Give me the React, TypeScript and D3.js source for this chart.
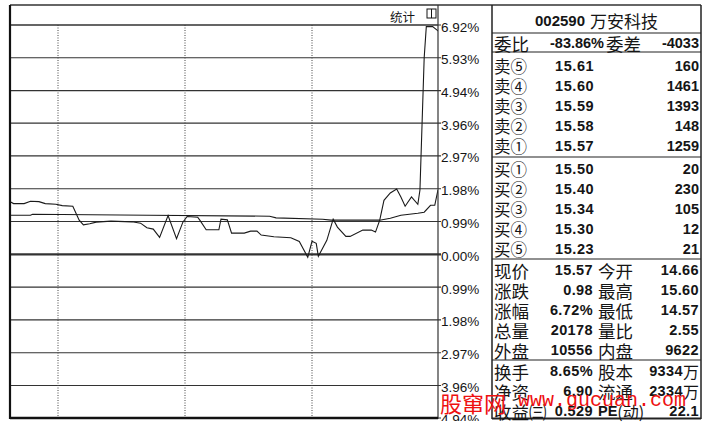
import * as d3 from 'd3'

// intraday price line, percent vs previous close (14.59)
const priceMinute = [35, 37, 39, 44, 47, 51, 54, 59, 62, 67, 70, 72, 75, 78, 85, 95, 99, 102, 105, 108, 112, 116, 119, 121, 126, 127, 130, 136, 137, 140, 142, 148, 151, 154, 156, 162, 170, 174, 178, 180, 182, 183, 187, 190, 192, 196, 198, 204, 208, 210, 212, 214, 217, 220, 222, 224, 227, 230, 231, 232, 233, 234, 237, 240]
const pricePct = [1.62, 1.6, 1.53, 1.53, 1.6, 1.59, 1.53, 1.51, 1.47, 1.45, 1.03, 0.89, 0.92, 0.97, 1.0, 0.98, 0.94, 0.8, 0.76, 0.51, 1.17, 0.47, 0.97, 1.14, 1.12, 1.03, 0.74, 0.74, 1.06, 1.04, 0.64, 0.64, 0.7, 0.7, 0.58, 0.53, 0.5, 0.39, -0.09, 0.39, 0.33, -0.06, 0.42, 1.06, 0.82, 0.54, 0.54, 0.73, 0.73, 0.67, 1.03, 1.63, 1.85, 1.97, 1.73, 1.45, 1.73, 1.51, 1.94, 3.94, 5.93, 6.87, 6.87, 6.72]

// average price line
const avgMinute = [35, 47, 48, 103, 160, 163, 185, 189, 212, 217, 222, 230, 233, 236, 238, 239.5]
const avgPct = [1.18, 1.18, 1.21, 1.18, 1.15, 1.1, 1.06, 1.03, 1.03, 1.09, 1.18, 1.24, 1.27, 1.48, 1.48, 1.94]

const tickValues = [6.92, 5.93, 4.94, 3.96, 2.97, 1.98, 0.99, 0, -0.99, -1.98, -2.97, -3.96, -4.94]
const tickLabels = ['6.92%', '5.93%', '4.94%', '3.96%', '2.97%', '1.98%', '0.99%', '0.00%', '0.99%', '1.98%', '2.97%', '3.96%', '4.94%']
const hourMinutes = [60, 120, 180]

const stockTitle = ['002590', '万安科技']
const ratioRow = ['委比', '-83.86%', '委差', '-4033']
const sellLabels = ['卖⑤', '卖④', '卖③', '卖②', '卖①']
const sellPrices = ['15.61', '15.60', '15.59', '15.58', '15.57']
const sellVols = ['160', '1461', '1393', '148', '1259']
const buyLabels = ['买①', '买②', '买③', '买④', '买⑤']
const buyPrices = ['15.50', '15.40', '15.34', '15.30', '15.23']
const buyVols = ['20', '230', '105', '12', '21']
const statRows = [
  ['现价', '15.57', '今开', '14.66'],
  ['涨跌', '0.98', '最高', '15.60'],
  ['涨幅', '6.72%', '最低', '14.57'],
  ['总量', '20178', '量比', '2.55'],
  ['外盘', '10556', '内盘', '9622'],
]
const extraRows = [
  ['换手', '8.65%', '股本', '9334', '万'],
  ['净资', '6.90', '流通', '2334', '万'],
  ['收益㈢', '0.529', 'PE(动)', '22.1', ''],
]

const W = 709
const H = 426
const left = 10
const right = 438
const top = 5
const headBottom = 25
const bottom = 418
const panelLeft = 492
const panelRight = 701

const cjk = '"Noto Sans CJK SC", sans-serif'
const num = '"Liberation Sans", Arial, sans-serif'
const ink = '#151515'
const grid = '#333'

export default function App() {
  const x = d3.scaleLinear([0, 240], [-69, 439])
  const y = d3.scaleLinear([0, 6.92], [254.3, 25])

  const priceLine = d3
    .line<number>()
    .x((_, i) => x(priceMinute[i]))
    .y((d) => y(d))
  const avgLine = d3
    .line<number>()
    .x((_, i) => x(avgMinute[i]))
    .y((d) => y(d))

  const numText = (props: any, s: string) => (
    <text fontFamily={num} fontWeight="bold" fontSize={14.5} fill={ink} dominantBaseline="central" {...props}>
      {s}
    </text>
  )
  const cjkText = (props: any, s: string) => (
    <text fontFamily={cjk} fontSize={16.5} fill={ink} dominantBaseline="central" {...props}>
      {s}
    </text>
  )

  return (
    <>
      <style>{`body{margin:0}`}</style>
      <svg width={W} height={H} style={{ display: 'block', background: '#fff' }}>
        <defs>
          <clipPath id="plot">
            <rect x={left} y={headBottom - 2} width={right - left} height={bottom - headBottom + 2} />
          </clipPath>
          <clipPath id="axis">
            <rect x={right} y={top} width={panelLeft - right} height={421 - top} />
          </clipPath>
        </defs>

        {/* horizontal grid */}
        {tickValues.map((v) => (
          <line
            key={v}
            x1={left}
            x2={right + 3}
            y1={y(v)}
            y2={y(v)}
            stroke={grid}
            strokeWidth={v === 0 ? 2.2 : 1.1}
          />
        ))}
        {/* dotted hour lines */}
        {hourMinutes.map((m) => (
          <line key={m} x1={x(m)} x2={x(m)} y1={headBottom} y2={bottom} stroke="#444" strokeWidth={1} strokeDasharray="1,1.5" />
        ))}

        <g clipPath="url(#plot)" fill="none" stroke="#1a1a1a" strokeWidth={1.1}>
          <path d={avgLine(avgPct) ?? ''} />
          <path d={priceLine(pricePct) ?? ''} />
        </g>

        {/* frame */}
        <line x1={left} x2={panelRight} y1={top} y2={top} stroke={grid} strokeWidth={1.5} />
        <line x1={left} x2={right} y1={headBottom} y2={headBottom} stroke={grid} strokeWidth={1.2} />
        <line x1={left} x2={left} y1={top} y2={bottom + 1} stroke="#111" strokeWidth={2.2} />
        <line x1={right} x2={right} y1={top} y2={bottom + 1} stroke={grid} strokeWidth={1.2} />
        <line x1={left} x2={right} y1={bottom} y2={bottom} stroke="#111" strokeWidth={2.5} />

        <text x={390} y={16} fontFamily={cjk} fontSize={12.5} fill={ink} dominantBaseline="central">
          统计
        </text>
        <rect x={427} y={9} width={9} height={9} fill="none" stroke={ink} strokeWidth={1} />
        <line x1={431.5} x2={431.5} y1={9} y2={18} stroke={ink} strokeWidth={1} />

        {/* y axis labels */}
        <g clipPath="url(#axis)">
          {tickValues.map((v, i) => (
            <text
              key={v}
              x={441}
              y={y(v) + 2}
              fontFamily={num}
              fontSize={13.5}
              fill={ink}
              dominantBaseline="central"
            >
              {tickLabels[i]}
            </text>
          ))}
        </g>

        {/* right quote panel */}
        <line x1={panelLeft} x2={panelLeft} y1={top} y2={bottom + 1} stroke="#222" strokeWidth={1.5} />
        <line x1={panelRight} x2={panelRight} y1={top} y2={bottom + 1} stroke="#222" strokeWidth={1.5} />
        <line x1={panelLeft} x2={panelRight} y1={bottom + 0.5} y2={bottom + 0.5} stroke="#222" strokeWidth={2} />
        {[33, 52, 157, 259, 360].map((sy) => (
          <line key={sy} x1={panelLeft} x2={panelRight} y1={sy} y2={sy} stroke="#222" strokeWidth={1.2} />
        ))}

        <text x={(panelLeft + panelRight) / 2} y={20} textAnchor="middle" dominantBaseline="central" fill={ink}>
          <tspan fontFamily={num} fontWeight="bold" fontSize={15}>
            {stockTitle[0]}
          </tspan>
          <tspan fontFamily={cjk} fontSize={17} dx={5}>
            {stockTitle[1]}
          </tspan>
        </text>

        {cjkText({ x: 494, y: 43, fontSize: 17.5 }, ratioRow[0])}
        {numText({ x: 604, y: 43, textAnchor: 'end' }, ratioRow[1])}
        {cjkText({ x: 606, y: 43, fontSize: 17.5 }, ratioRow[2])}
        {numText({ x: 699, y: 43, textAnchor: 'end' }, ratioRow[3])}

        {sellLabels.map((lab, i) => (
          <g key={lab}>
            {cjkText({ x: 494, y: 66 + i * 20 }, lab)}
            {numText({ x: 555, y: 66 + i * 20, letterSpacing: 0.6 }, sellPrices[i])}
            {numText({ x: 699, y: 66 + i * 20, textAnchor: 'end' }, sellVols[i])}
          </g>
        ))}
        {buyLabels.map((lab, i) => (
          <g key={lab}>
            {cjkText({ x: 494, y: 169 + i * 20 }, lab)}
            {numText({ x: 555, y: 169 + i * 20, letterSpacing: 0.6 }, buyPrices[i])}
            {numText({ x: 699, y: 169 + i * 20, textAnchor: 'end' }, buyVols[i])}
          </g>
        ))}
        {statRows.map((r, i) => (
          <g key={r[0]}>
            {cjkText({ x: 494, y: 270 + i * 20, fontSize: 17.5 }, r[0])}
            {numText({ x: 593, y: 270 + i * 20, textAnchor: 'end', letterSpacing: 0.4 }, r[1])}
            {cjkText({ x: 598, y: 270 + i * 20, fontSize: 17.5 }, r[2])}
            {numText({ x: 699, y: 270 + i * 20, textAnchor: 'end', letterSpacing: 0.4 }, r[3])}
          </g>
        ))}
        {extraRows.map((r, i) => (
          <g key={r[0]}>
            {cjkText({ x: 494, y: 371 + i * 20, fontSize: 17.5 }, r[0])}
            {numText({ x: 593, y: 371 + i * 20, textAnchor: 'end', letterSpacing: 0.4 }, r[1])}
            {i === 2 ? (
              <text x={598} y={371 + i * 20} dominantBaseline="central" fill={ink}>
                <tspan fontFamily={num} fontWeight="bold" fontSize={14.5}>PE</tspan>
                <tspan fontFamily={cjk} fontSize={16}>(动)</tspan>
              </text>
            ) : (
              cjkText({ x: 598, y: 371 + i * 20, fontSize: 17.5 }, r[2])
            )}
            <text x={699} y={371 + i * 20} textAnchor="end" dominantBaseline="central" fill={ink}>
              <tspan fontFamily={num} fontWeight="bold" fontSize={14.5} letterSpacing={0.4}>
                {r[3]}
              </tspan>
              {r[4] ? (
                <tspan fontFamily={cjk} fontSize={16}>
                  {r[4]}
                </tspan>
              ) : null}
            </text>
          </g>
        ))}

        {/* watermark */}
        <text x={440} y={402} fontFamily={cjk} fontSize={22} fill="#ee1111" dominantBaseline="central">
          股窜网
        </text>
        <text x={518} y={400} fontFamily='"Liberation Mono", monospace' fontSize={20} fill="#ee1111" dominantBaseline="central">
          www.gucuan.com
        </text>
      </svg>
    </>
  )
}
